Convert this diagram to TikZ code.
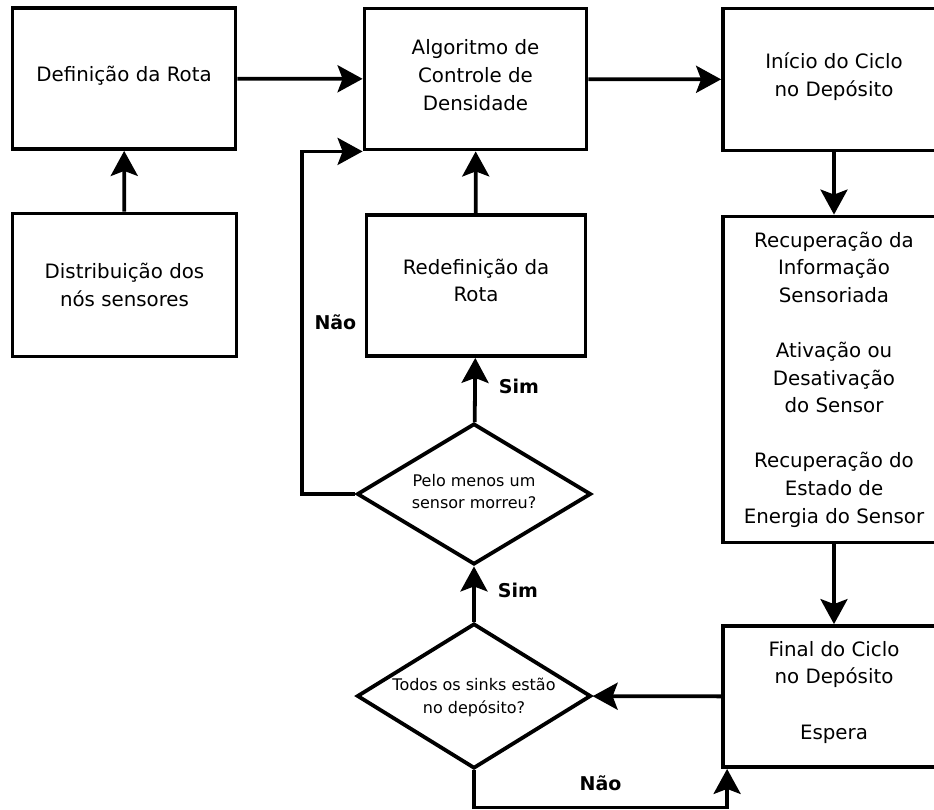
\documentclass[tikz,border=0pt]{standalone}
\usepackage{fontspec}
\setmainfont{DejaVu Sans}
\usetikzlibrary{arrows.meta}
\usetikzlibrary{shapes.geometric}
\tikzset{
  every picture/.style={
    line width=3.8pt,
    >={Stealth[length=25pt, width=27pt, inset=5pt]}
  },
  caixa/.style={
    draw, rectangle, align=center, inner sep=0pt,
    minimum width=222pt, minimum height=141pt,
    font=\fontsize{19.8}{27.6}\selectfont
  },
  decisao/.style={
    draw, diamond, aspect=1.63, align=center, inner sep=0pt,
    minimum width=234pt, minimum height=141pt,
    font=\fontsize{16}{22.7}\selectfont
  }
}

\begin{document}
\begin{tikzpicture}[
      x=1pt, y=-1pt,
      resp/.style={font=\bfseries\fontsize{19}{22}\selectfont, inner sep=0pt}
    ]
      \useasboundingbox (0,0) rectangle (934,809);
      \node [caixa, minimum width=223pt, text depth=9pt] (rota) at (124,78.5) {Definição da Rota};
      \node [caixa, minimum width=224pt, minimum height=143pt] (distr) at (124.5,285) {Distribuição dos\\nós sensores};
      \node [caixa, text depth=8pt] (algo) at (475.5,79) {Algoritmo de\\Controle de\\Densidade};
      \node [caixa, minimum width=219pt, text depth=10pt] (redef) at (476,285.5) {Redefinição da\\Rota};
      \node [caixa, minimum height=142pt, text depth=9.5pt] (inicio) at (834,79.5) {Início do Ciclo\\no Depósito};
      \node [caixa, minimum height=326pt] (recup) at (834,379.5) {Recuperação da\\Informação\\Sensoriada\\[27.6pt]Ativação ou\\Desativação\\do Sensor\\[27.6pt]Recuperação do\\Estado de\\Energia do Sensor};
      \node [caixa, text depth=12.5pt] (final) at (834,696.5) {Final do Ciclo\\no Depósito\\[27.6pt]Espera};
      \node [decisao, text depth=5pt] (morreu) at (474,494) {Pelo menos um\\sensor morreu?};
      \node [decisao, minimum height=145pt, text depth=0pt] (sinks) at (474,696) {Todos os sinks estão\\no depósito?};
      \draw [->] (distr) -- (rota);
      \draw [->] (rota) -- (algo);
      \draw [->] (algo) -- (inicio);
      \draw [->] (redef) -- (algo);
      \draw [->] (inicio) -- (recup);
      \draw [->] (recup) -- (final);
      \draw [->] (final) -- (sinks);
      \draw [->] (sinks) -- (morreu) node [resp, midway, right=22pt, yshift=4pt] (sim2) {Sim};
      \draw [->] (morreu) -- (redef) node [resp, midway, right=22pt, yshift=4pt] (sim1) {Sim};
      \draw [->] (morreu.west) -| ([xshift=-61pt]algo.south west) node [resp, pos=0.75, right=11pt] (nao1) {Não}
        -- (algo.south west);
      \draw [->] (sinks.south) -- ++(0,37) -| ([xshift=6pt]final.south west) node [resp, pos=0.25, above=15pt] (nao2) {Não};
    \end{tikzpicture}
\end{document}
